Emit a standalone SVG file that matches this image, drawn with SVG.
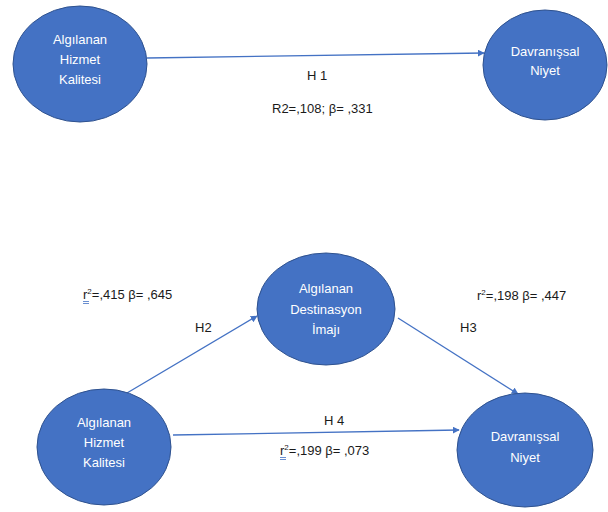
<svg xmlns="http://www.w3.org/2000/svg" width="608" height="512" viewBox="0 0 608 512">
<style>
.node{fill:#4472C4;stroke:#2F528F;stroke-width:1}
.nt{fill:#fff;font-family:"Liberation Sans",Arial,sans-serif;font-size:13px;text-anchor:middle}
.lbl{fill:#1a1a1a;font-family:"Liberation Sans",Arial,sans-serif;font-size:13px}
.edge{stroke:#4472C4;stroke-width:1.3;fill:none;marker-end:url(#arr)}
.sq{stroke:#4472C4;stroke-width:0.8}
</style>
<defs>
<marker id="arr" viewBox="0 0 10 10" refX="9" refY="5" markerWidth="7" markerHeight="7" markerUnits="userSpaceOnUse" orient="auto">
<path d="M0,0 L10,5 L0,10 z" fill="#4472C4"/>
</marker>
</defs>
<rect width="608" height="512" fill="#fff"/>
<g id="connectors">
<line class="edge" x1="147" y1="58" x2="484" y2="53"/>
<line class="edge" x1="127" y1="393" x2="257" y2="316"/>
<line class="edge" x1="398" y1="318" x2="518" y2="394"/>
<line class="edge" x1="173" y1="435" x2="459" y2="430"/>
</g>
<g id="n1">
<ellipse class="node" cx="80" cy="64" rx="67" ry="58"/>
<text class="nt" x="80" y="44">Algılanan</text>
<text class="nt" x="80" y="64">Hizmet</text>
<text class="nt" x="80" y="84">Kalitesi</text>
</g>
<g id="n2">
<ellipse class="node" cx="545" cy="65" rx="62" ry="55"/>
<text class="nt" x="545" y="56">Davranışsal</text>
<text class="nt" x="545" y="75">Niyet</text>
</g>
<g id="n3">
<ellipse class="node" cx="326" cy="309" rx="69" ry="56"/>
<text class="nt" x="326" y="293">Algılanan</text>
<text class="nt" x="326" y="314">Destinasyon</text>
<text class="nt" x="326" y="334">İmajı</text>
</g>
<g id="n4">
<ellipse class="node" cx="104" cy="447" rx="67" ry="58"/>
<text class="nt" x="104" y="427">Algılanan</text>
<text class="nt" x="104" y="447">Hizmet</text>
<text class="nt" x="104" y="467">Kalitesi</text>
</g>
<g id="n5">
<ellipse class="node" cx="525" cy="450" rx="68" ry="57"/>
<text class="nt" x="525" y="441">Davranışsal</text>
<text class="nt" x="525" y="462">Niyet</text>
</g>
<g id="labels">
<text class="lbl" x="307" y="80">H 1</text>
<text class="lbl" x="272" y="113">R2=,108; β= ,331</text>
<text class="lbl" x="83" y="299">r<tspan font-size="8" dy="-5">2</tspan><tspan dy="5">=,415 β= ,645</tspan></text>
<line class="sq" x1="83" y1="301.5" x2="89" y2="301.5"/>
<line class="sq" x1="83" y1="303.5" x2="89" y2="303.5"/>
<text class="lbl" x="195" y="332">H2</text>
<text class="lbl" x="477" y="300">r<tspan font-size="8" dy="-5">2</tspan><tspan dy="5">=,198 β= ,447</tspan></text>
<text class="lbl" x="460" y="332">H3</text>
<text class="lbl" x="324" y="425">H 4</text>
<text class="lbl" x="280" y="455">r<tspan font-size="8" dy="-5">2</tspan><tspan dy="5">=,199 β= ,073</tspan></text>
<line class="sq" x1="280" y1="457.5" x2="286" y2="457.5"/>
<line class="sq" x1="280" y1="459.5" x2="286" y2="459.5"/>
</g>
</svg>
